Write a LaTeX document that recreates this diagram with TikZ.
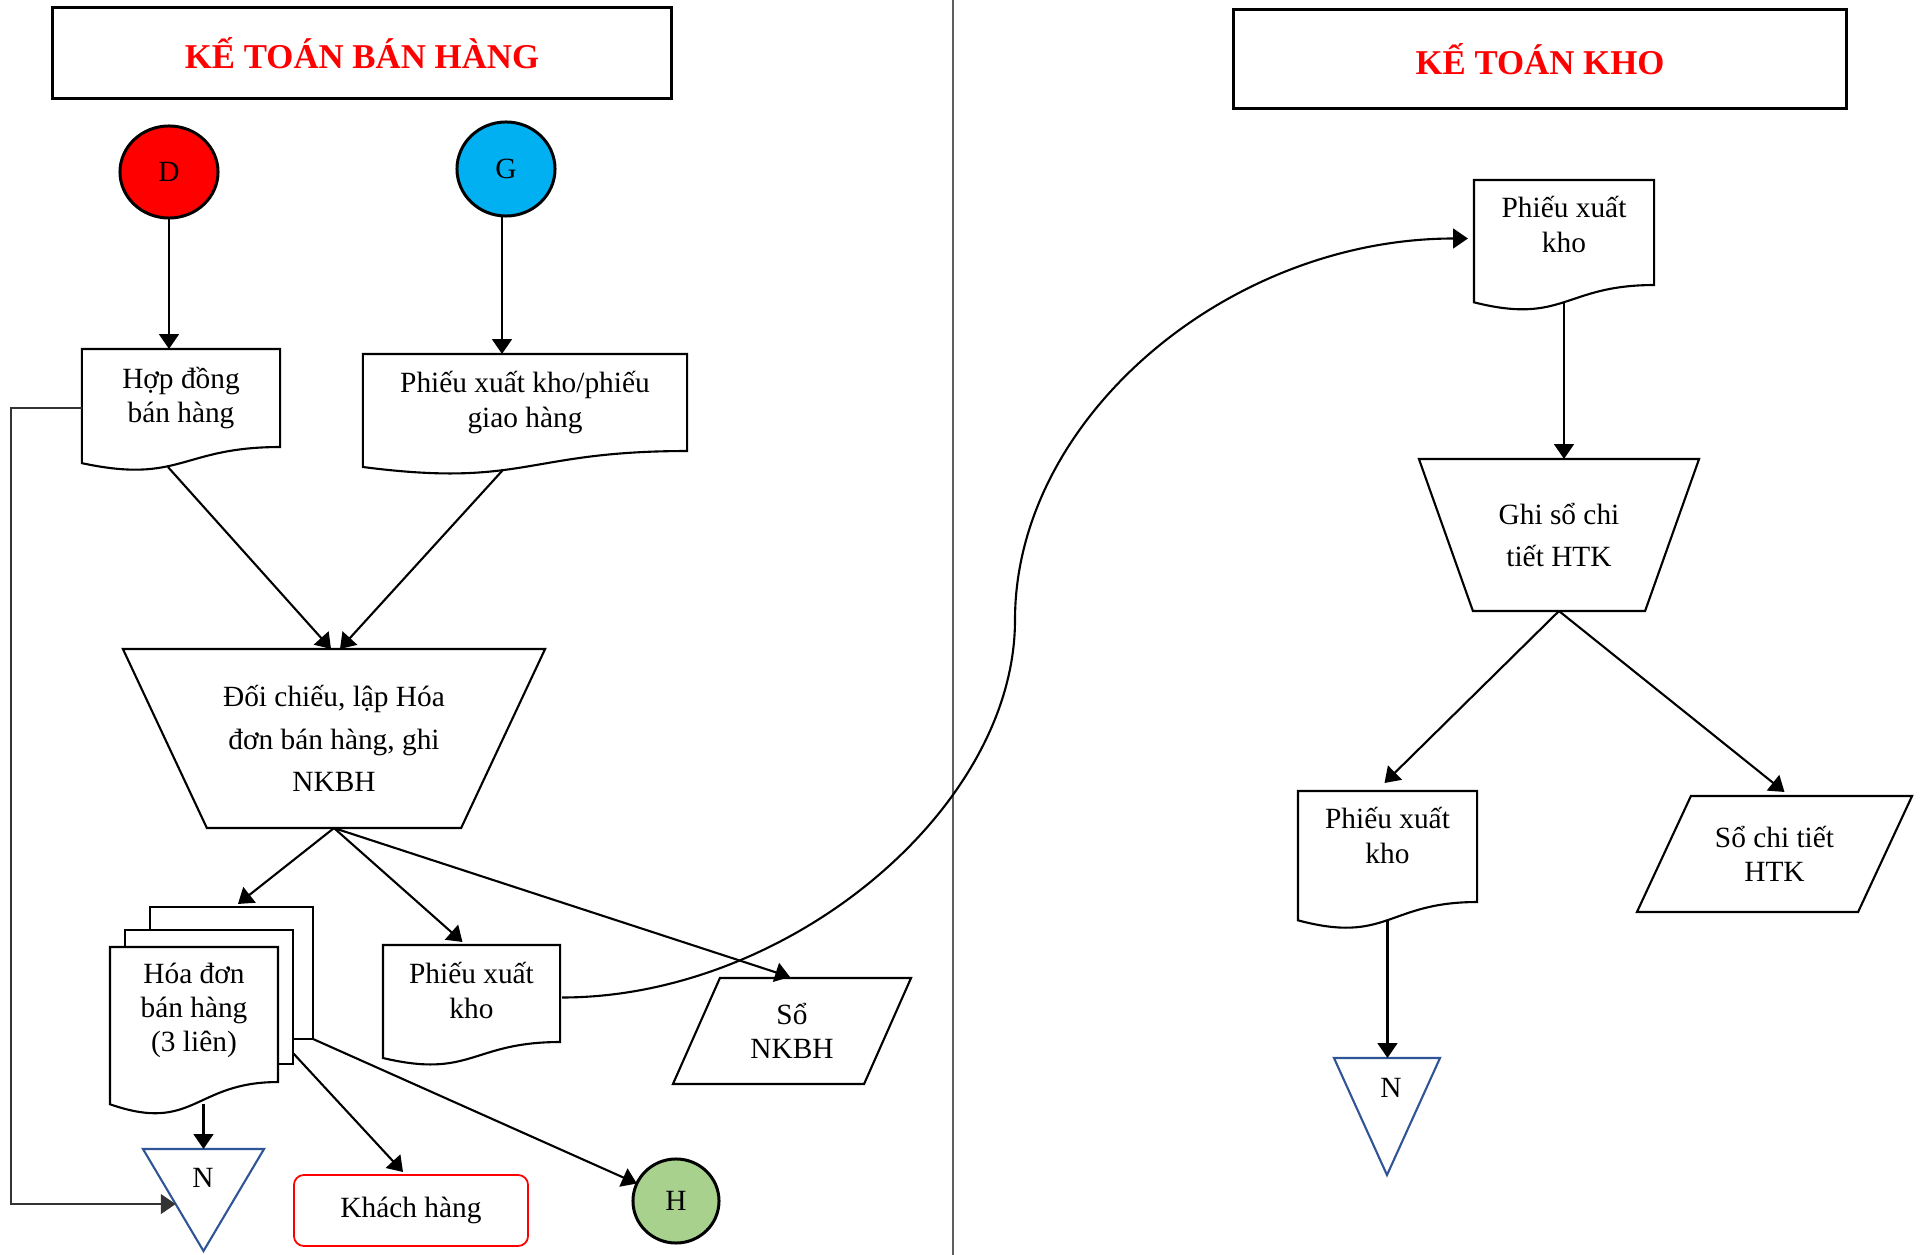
\documentclass[tikz,border=0pt]{standalone}
\usepackage{fontspec}
\setmainfont{Liberation Serif}
\usetikzlibrary{arrows.meta,calc,shapes.geometric}

\definecolor{titlered}{RGB}{255,0,0}
\definecolor{dred}{RGB}{255,0,0}
\definecolor{gblue}{RGB}{0,176,240}
\definecolor{hgreen}{RGB}{169,209,142}
\definecolor{nblue}{RGB}{47,85,151}
\definecolor{sepgray}{RGB}{95,95,95}

\newcommand\bodyfont{\fontsize{8.35}{9.7}\selectfont}
\newcommand\procfont{\fontsize{8.35}{12}\selectfont}

% document symbol: flat top, wavy bottom below the text area of node #1
\newcommand\drawdoc[1]{%
  \draw[shapeline] (#1.north west) -- (#1.north east) -- (#1.south east)
    .. controls (#1.south) and ($(#1.north)!1.381!(#1.south)$)
    .. ($(#1.north west)!1.1646!(#1.south west)$) -- cycle;
  \coordinate (#1-b) at ($(#1.north)!1.1635!(#1.south)$);}

% process symbol: wide top, narrow bottom
\newcommand\drawtrap[2]{%
  \draw[shapeline] (#1.north west) -- (#1.north east)
    -- ($(#1.south east)+(-#2,0)$) -- ($(#1.south west)+(#2,0)$) -- cycle;}

% ledger symbol: parallelogram leaning right
\newcommand\drawpara[2]{%
  \draw[shapeline] (#1.south west) -- ($(#1.north west)+(#2,0)$)
    -- (#1.north east) -- ($(#1.south east)+(-#2,0)$) -- cycle;}

% file symbol: triangle pointing down
\newcommand\drawtri[1]{%
  \draw[shapeline,draw=nblue] (#1.north west) -- (#1.north east) -- (#1.south) -- cycle;}

\tikzset{
  shapeline/.style={line width=0.6pt, line join=miter},
  box/.style={rectangle, draw=none, outer sep=0pt, inner sep=0pt, align=center, font=\bodyfont},
  proc/.style={box, font=\procfont},
  ttl/.style={rectangle, draw, line width=0.85pt, outer sep=0pt, inner sep=0pt,
    font=\fontsize{9.9}{12}\selectfont\bfseries, text=titlered},
  term/.style={ellipse, draw, line width=0.85pt, inner sep=0pt, outer sep=0pt, font=\bodyfont},
  arr/.style={line width=0.6pt, -{Triangle[length=4.2pt,width=5.6pt]}},
  fbline/.style={line width=0.55pt, draw=black!80, -{Triangle[length=4.2pt,width=5.6pt]}},
}

\begin{document}
\begin{tikzpicture}[x=0.01cm, y=-0.01cm]
\useasboundingbox (0,0) rectangle (1920,1255);

% column separator
\draw[sepgray, line width=0.45pt] (953,0) -- (953,1255);

% ---------- Sales accounting ----------
\node[ttl, minimum width=61.8mm, minimum height=9mm] (t1) at (362,53) {KẾ TOÁN BÁN HÀNG};

\node[term, fill=dred, minimum width=9.8mm, minimum height=9.2mm] (D) at (169,172) {D};
\node[term, fill=gblue, minimum width=9.8mm, minimum height=9.4mm] (G) at (506,169) {G};

\node[box, minimum width=19.8mm, minimum height=9.8mm] (hd) at (181,398) {Hợp đồng\\bán hàng};
\drawdoc{hd}
\node[box, minimum width=32.4mm, minimum height=9.7mm] (pgh) at (525,402.5) {Phiếu xuất kho/phiếu\\giao hàng};
\drawdoc{pgh}

\node[proc, minimum width=42.2mm, minimum height=17.9mm] (dc) at (334,738.5) {Đối chiếu, lập Hóa\\đơn bán hàng, ghi\\NKBH};
\drawtrap{dc}{84}

% invoice in three copies
\node[box, minimum width=16.8mm, minimum height=13.5mm] (hdbh) at (194,1014.5) {};
\node[box] (hdbht) at (194,1010.5) {Hóa đơn\\bán hàng\\(3 liên)};
\draw[shapeline] ($(hdbh.north west)+(40,-17)$) -- ($(hdbh.north west)+(40,-40)$)
  -- ($(hdbh.north west)+(203,-40)$) -- ($(hdbh.north west)+(203,92)$) -- ($(hdbh.north west)+(183,92)$);
\draw[shapeline] ($(hdbh.north west)+(15,0)$) -- ($(hdbh.north west)+(15,-17)$)
  -- ($(hdbh.north west)+(183,-17)$) -- ($(hdbh.north west)+(183,117)$) -- ($(hdbh.north west)+(168,117)$);
\drawdoc{hdbh}
\coordinate (hdbh-top) at ($(hdbh.north west)+(128,-43)$);
\coordinate (hdbh-mid) at ($(hdbh.north west)+(183,106)$);
\coordinate (hdbh-back) at ($(hdbh.north west)+(203,92)$);

\node[box, minimum width=17.7mm, minimum height=9.7mm] (pxk2) at (471.5,993.5) {};
\node[box] (pxk2t) at (471.5,990.5) {Phiếu xuất\\kho};
\drawdoc{pxk2}
\node[box, minimum width=23.8mm, minimum height=10.6mm] (snkbh) at (792,1031) {Sổ\\NKBH};
\drawpara{snkbh}{47}

\node[box, minimum width=12.1mm, minimum height=10.2mm] (N1) at (203.5,1200) {};
\drawtri{N1}
\node[box] (N1t) at (203,1178) {N};

\node[box, draw=dred, rounded corners=1mm, line width=0.5pt, minimum width=23.4mm, minimum height=7.1mm] (kh) at (411,1210.5) {Khách hàng};
\node[term, fill=hgreen, minimum width=8.6mm, minimum height=8.4mm] (H) at (676,1201) {H};

% ---------- Inventory accounting ----------
\node[ttl, minimum width=61.2mm, minimum height=9.8mm] (t2) at (1540,59) {KẾ TOÁN KHO};

\node[box, minimum width=18mm, minimum height=10.5mm] (pxk1) at (1564,232.5) {};
\node[box] (pxk1t) at (1564,224.5) {Phiếu xuất\\kho};
\drawdoc{pxk1}
\node[proc, minimum width=28mm, minimum height=15.2mm] (gs) at (1559,535) {Ghi sổ chi\\tiết HTK};
\drawtrap{gs}{54}
\node[box, minimum width=17.9mm, minimum height=11.1mm] (pxk3) at (1387.5,846.5) {};
\node[box] (pxk3t) at (1387.5,835.5) {Phiếu xuất\\kho};
\drawdoc{pxk3}
\node[box, minimum width=27.5mm, minimum height=11.6mm] (sct) at (1774.5,854) {Sổ chi tiết\\HTK};
\drawpara{sct}{54}
\node[box, minimum width=10.6mm, minimum height=11.7mm] (N2) at (1387,1116.5) {};
\drawtri{N2}
\node[box] (N2t) at (1391,1088) {N};

% ---------- connectors ----------
\draw[arr] (D.south) -- (D.south |- hd.north);
\draw[arr] ($(G.south)+(-4,0)$) -- ($(G.south |- pgh.north)+(-4,0)$);
\draw[arr] ($(hd-b)+(-13,4)$) -- ($(dc.north)+(-3,0)$);
\draw[arr] ($(pgh-b)+(-22,3)$) -- ($(dc.north)+(6,0)$);
\draw[arr] (dc.south) -- (hdbh-top);
\draw[arr] (dc.south) -- ($(pxk2.north)+(-9,-3)$);
\draw[arr] (dc.south) -- ($(snkbh.north)+(-2,-1)$);
\draw[arr] (N1.north |- hdbh-b) -- (N1.north);
\draw[arr] (hdbh-mid) -- ($(kh.north)+(-8,-3)$);
\draw[arr] (hdbh-back) -- (H);

% return line from the contract to the file
\coordinate (fbx) at (11,0);
\coordinate (hdfb) at ($(hd.west)+(0,10)$);
\coordinate (N1-in) at ($(N1.north west)!0.54!(N1.south)$);
\draw[fbline] (hdfb) -- (hdfb -| fbx) |- (N1-in);

% delivery note passed on to inventory accounting
\coordinate (bend) at (1015,620);
\draw[arr] ($(pxk2.east)+(2,4)$) .. controls +(226,0) and +(0,189) .. (bend)
  .. controls +(0,-202) and +(-240,0) .. ($(pxk1.west)+(-6,6)$);

\draw[arr] (pxk1-b) -- (pxk1-b |- gs.north);
\draw[arr] (gs.south) -- ($(pxk3.north)+(-3,-8)$);
\draw[arr] (gs.south) -- ($(sct.north)+(10,-4)$);
\draw[arr] (pxk3-b) -- (pxk3-b |- N2.north);
\end{tikzpicture}
\end{document}
